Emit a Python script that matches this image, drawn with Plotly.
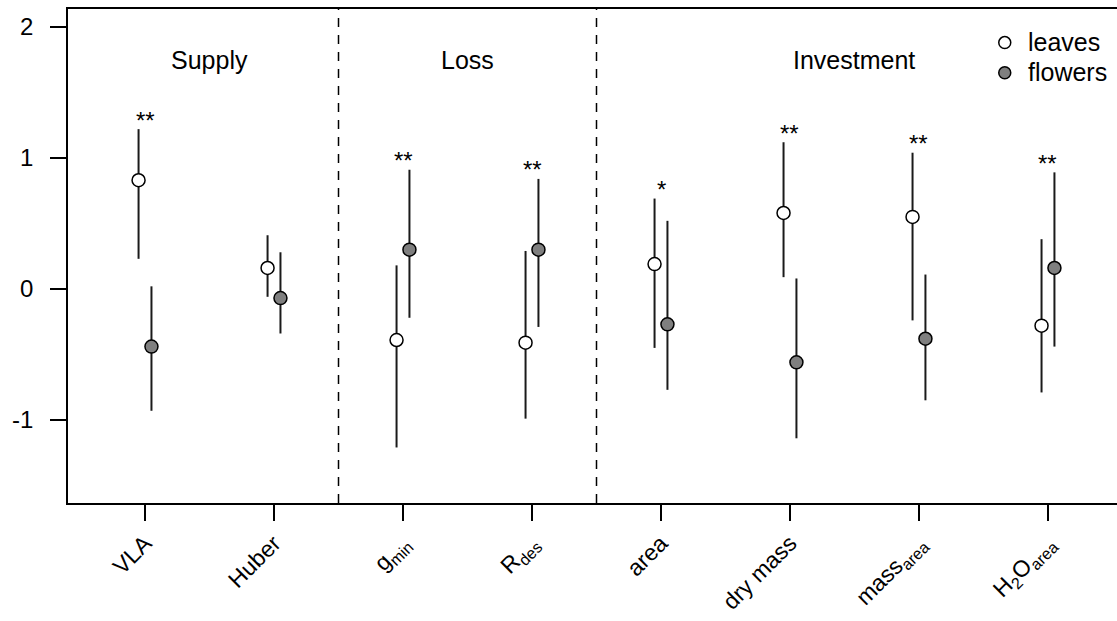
import plotly.graph_objects as go

# ---- data ----
categories = ["VLA", "Huber", "g<sub>min</sub>", "R<sub>des</sub>", "area",
              "dry mass", "mass<sub>area</sub>", "H<sub>2</sub>O<sub>area</sub>"]
leaves_mean = [0.83, 0.16, -0.39, -0.41, 0.19, 0.58, 0.55, -0.28]
leaves_lo = [0.23, -0.06, -1.21, -0.99, -0.45, 0.09, -0.24, -0.79]
leaves_hi = [1.22, 0.41, 0.18, 0.29, 0.69, 1.12, 1.04, 0.38]
flowers_mean = [-0.44, -0.07, 0.30, 0.30, -0.27, -0.56, -0.38, 0.16]
flowers_lo = [-0.93, -0.34, -0.22, -0.29, -0.77, -1.14, -0.85, -0.44]
flowers_hi = [0.02, 0.28, 0.91, 0.84, 0.52, 0.08, 0.11, 0.89]
signif = ["**", "", "**", "**", "*", "**", "**", "**"]
group_names = ["Supply", "Loss", "Investment"]
group_centers = [1.5, 3.5, 6.5]
group_dividers = [2.5, 4.5]
y_ticks = [-1, 0, 1, 2]
y_ticktext = ["-1", "0", "1", "2"]
series_names = ["leaves", "flowers"]
series_fills = ["white", "#7f7f7f"]

FONT = "Liberation Sans, Arial, Helvetica, sans-serif"
pos = list(range(1, len(categories) + 1))
off = 0.05
line_col = "#1a1a1a"

fig = go.Figure()

def add_series(name, means, lo, hi, shift, fill):
    xs = [p + shift for p in pos]
    fig.add_trace(go.Scatter(
        x=xs, y=means, mode="markers", name=name, showlegend=False,
        marker=dict(size=13, color=fill, line=dict(color="black", width=1.5)),
        error_y=dict(type="data", symmetric=False,
                     array=[h - m for h, m in zip(hi, means)],
                     arrayminus=[m - l for m, l in zip(means, lo)],
                     width=0, thickness=2, color=line_col),
        cliponaxis=False,
    ))

add_series(series_names[0], leaves_mean, leaves_lo, leaves_hi, -off, series_fills[0])
add_series(series_names[1], flowers_mean, flowers_lo, flowers_hi, off, series_fills[1])

# significance stars
for p, s, lh, fh in zip(pos, signif, leaves_hi, flowers_hi):
    if s:
        fig.add_annotation(x=p, y=max(lh, fh), text=s, showarrow=False,
                           xref="x", yref="y", yanchor="middle", yshift=9,
                           font=dict(family=FONT, size=24, color="black"))

# group labels
for g, c in zip(group_names, group_centers):
    fig.add_annotation(x=c, y=1.75, text=g, showarrow=False, xref="x", yref="y",
                       font=dict(family=FONT, size=25, color="black"))

# dividers
for d in group_dividers:
    fig.add_shape(type="line", x0=d, x1=d, y0=0, y1=1, xref="x", yref="paper",
                  line=dict(color="black", width=1.5, dash="9px,8px"))

# legend (drawn manually, top right)
leg_x = 0.893       # paper x of symbol centre
leg_y = [0.932, 0.871]
for name, fill, ly in zip(series_names, series_fills, leg_y):
    fig.add_shape(type="circle", xref="paper", yref="paper",
                  xsizemode="pixel", ysizemode="pixel",
                  xanchor=leg_x, yanchor=ly, x0=-6, x1=6, y0=-6, y1=6,
                  line=dict(color="black", width=1.5), fillcolor=fill)
    fig.add_annotation(x=leg_x, y=ly, xref="paper", yref="paper", text=name,
                       showarrow=False, xanchor="left", yanchor="middle",
                       xshift=21, yshift=1,
                       font=dict(family=FONT, size=25, color="black"))

fig.update_layout(
    width=1117, height=621,
    margin=dict(l=68, r=0, t=9, b=118, autoexpand=False),
    paper_bgcolor="white", plot_bgcolor="white",
    font=dict(family=FONT, color="black"),
    showlegend=False,
    xaxis=dict(range=[0.403, 8.535], tickvals=pos, ticktext=categories,
               tickangle=-45, ticks="outside", ticklen=16, tickwidth=1.5,
               tickcolor="black", showline=True, linecolor="black", linewidth=1.5,
               mirror=True, showgrid=False, zeroline=False, ticklabelstandoff=0,
               automargin=False,
               tickfont=dict(family=FONT, size=23, color="black")),
    yaxis=dict(range=[-1.634, 2.137], tickvals=y_ticks, ticktext=y_ticktext,
               ticks="outside", ticklen=16, tickwidth=1.5, tickcolor="black",
               showline=True, linecolor="black", linewidth=1.5, mirror=False,
               showgrid=False, zeroline=False, ticklabelstandoff=12,
               automargin=False,
               tickfont=dict(family=FONT, size=24, color="black")),
)

fig.write_html("out.html")
